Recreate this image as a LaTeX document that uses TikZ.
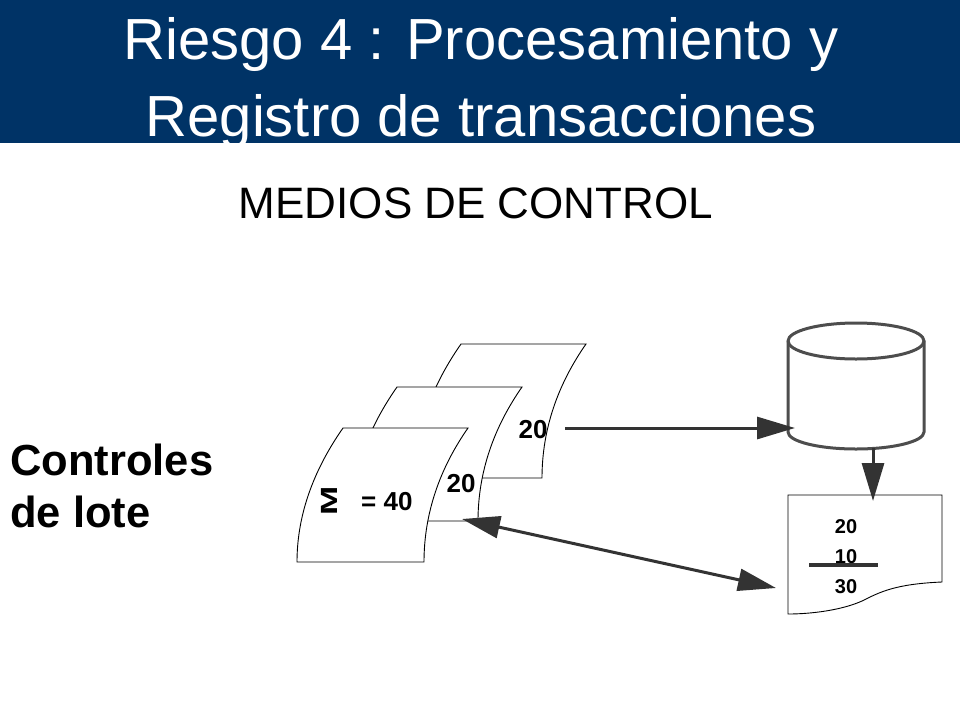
\documentclass[tikz,border=0pt]{standalone}
\usepackage{fontspec}
\setmainfont{Liberation Sans}
\usetikzlibrary{arrows.meta}
\definecolor{titleblue}{RGB}{0,51,102}
\definecolor{arrowgray}{RGB}{51,51,51}
\definecolor{dbgray}{RGB}{77,77,77}
\tikzset{
  doc/.style={draw=black, line width=0.9pt, fill=white},
  bigarrow/.style={draw=arrowgray, line width=3pt, -{Triangle[length=38pt,width=22pt]}},
  dblarrow/.style={draw=arrowgray, line width=3pt, {Triangle[length=38pt,width=22pt]}-{Triangle[length=38pt,width=22pt]}},
  num/.style={font=\fontsize{26}{30}\selectfont\bfseries, inner sep=0pt, anchor=base},
  rnum/.style={font=\fontsize{20}{24}\selectfont\bfseries, inner sep=0pt, anchor=base},
}
\newcommand{\slip}[2]{%
  \draw[doc] (#1,#2) -- ++(125,0) .. controls +(-28,40) and +(0,-49) .. ++(-44,134)
    -- ++(-127,0) .. controls +(0,-49) and +(-28,40) .. (#1,#2) -- cycle;}
\begin{document}
\begin{tikzpicture}[x=1pt,y=-1pt]
\useasboundingbox (0,0) rectangle (960,720);
\fill[white] (0,0) rectangle (960,720);
% title bar
\fill[titleblue] (0,0) rectangle (960,143);
\node[font=\fontsize{58}{60}\selectfont, text=white, inner sep=0pt, anchor=base] (t1) at (481,59) {Riesgo 4 : Procesamiento y};
\node[font=\fontsize{58}{60}\selectfont, text=white, inner sep=0pt, anchor=base] (t2) at (481,136) {Registro de transacciones};
% subtitle
\node[font=\fontsize{44}{48}\selectfont, inner sep=0pt, anchor=base] (sub) at (476,218) {MEDIOS DE CONTROL};
% left label
\node[font=\fontsize{43.5}{48}\selectfont\bfseries, inner sep=0pt, anchor=base west] (c1) at (10,475) {Controles};
\node[font=\fontsize{43.5}{48}\selectfont\bfseries, inner sep=0pt, anchor=base west] (c2) at (10,527) {de lote};
% documents (back to front)
\slip{461}{344}
\slip{397}{387}
\slip{343}{428}
\node[num] (n1) at (533,438) {20};
\node[num] (n2) at (461,492) {20};
\node[inner sep=0pt] (sig) at (329,501) {\scalebox{0.9}[1.35]{\rotatebox{90}{\fontsize{26}{30}\selectfont\bfseries M}}};
\node[num, font=\fontsize{26}{30}\selectfont\bfseries, anchor=base west] (eq) at (361,510) {= 40};
% database cylinder
\draw[draw=dbgray, line width=3pt, fill=white]
  (788,341) -- (788,432) arc[start angle=180, end angle=0, x radius=68, y radius=17]
  -- (924,341) arc[start angle=0, end angle=-180, x radius=68, y radius=18] -- cycle;
\draw[draw=dbgray, line width=3pt] (788,341) arc[start angle=180, end angle=0, x radius=68, y radius=18];
\coordinate (dbL) at (795,428);
\coordinate (dbB) at (873,448);
% report
\draw[doc] (788,495) -- (942,495) -- (942,582)
  .. controls (895,584) and (880,592) .. (862,601)
  .. controls (842,610) and (812,614) .. (788,614) -- cycle;
\coordinate (repT) at (873,501);
\coordinate (repL) at (776,588);
\node[rnum] (r1) at (846,533) {20};
\node[rnum] (r2) at (846,563) {10};
\draw[draw=arrowgray, line width=3.5pt] (809,565) -- (878,565);
\node[rnum] (r3) at (846,593) {30};
% arrows
\coordinate (a1s) at (565,428);
\coordinate (dblA) at (462,519);
\draw[bigarrow] (a1s) -- (dbL);
\draw[bigarrow] (dbB) -- (repT);
\draw[dblarrow] (dblA) -- (repL);
\end{tikzpicture}
\end{document}
